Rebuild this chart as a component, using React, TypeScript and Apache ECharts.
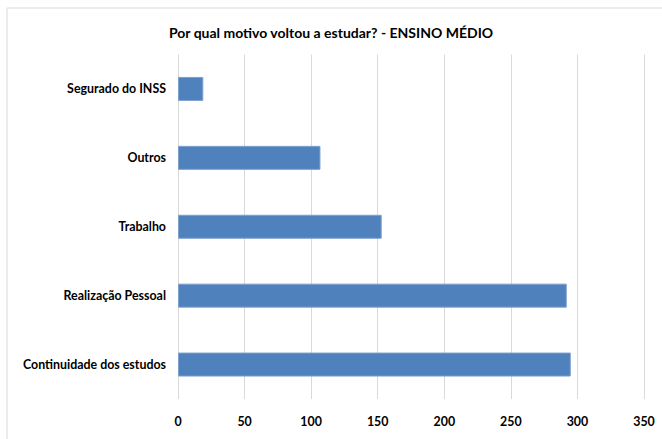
import React, { useEffect, useRef } from "react";
import * as echarts from "echarts";

const categories = [
  "Continuidade dos estudos",
  "Realização Pessoal",
  "Trabalho",
  "Outros",
  "Segurado do INSS",
];
const values = [295, 292, 153, 107, 19];
const titleText = "Por qual motivo voltou a estudar? - ENSINO MÉDIO";

export default function App() {
  const ref = useRef<HTMLDivElement>(null);
  useEffect(() => {
    document.body.style.margin = "0";
    const chart = echarts.init(ref.current!, null, { renderer: "svg" });
    chart.setOption({
      animation: false,
      backgroundColor: "#ffffff",
      textStyle: { fontFamily: "Lato" },
      title: {
        text: titleText,
        left: "center",
        top: 20,
        textStyle: { fontFamily: "Lato", fontWeight: "bold", fontSize: 14, color: "#000000" },
      },
      graphic: [
        {
          type: "rect",
          shape: { x: 7, y: 8, width: 700, height: 500 },
          style: { fill: "none", stroke: "#d9d9d9", lineWidth: 1 },
          silent: true,
          z: -1,
        },
      ],
      grid: { left: 178, right: 18, top: 54.5, bottom: 40, containLabel: false },
      xAxis: {
        type: "value",
        min: 0,
        max: 350,
        interval: 50,
        axisLine: { show: false },
        axisTick: { show: false },
        splitLine: { show: true, lineStyle: { color: "#d9d9d9", width: 1 } },
        axisLabel: { color: "#000000", fontWeight: "bold", fontSize: 12.4, fontFamily: "Lato", margin: 16 },
      },
      yAxis: {
        type: "category",
        data: categories,
        axisLine: { show: false },
        axisTick: { show: false },
        axisLabel: { color: "#000000", fontWeight: "bold", fontSize: 12.4, fontFamily: "Lato", margin: 12 },
      },
      series: [
        {
          type: "bar",
          data: values,
          barWidth: 24,
          itemStyle: { color: "#4f81bd", borderColor: "#7da0cf", borderWidth: 1 },
        },
      ],
    });
    return () => chart.dispose();
  }, []);
  return (
    <div
      ref={ref}
      style={{ position: "fixed", left: 0, top: 0, width: 662, height: 439 }}
    />
  );
}
